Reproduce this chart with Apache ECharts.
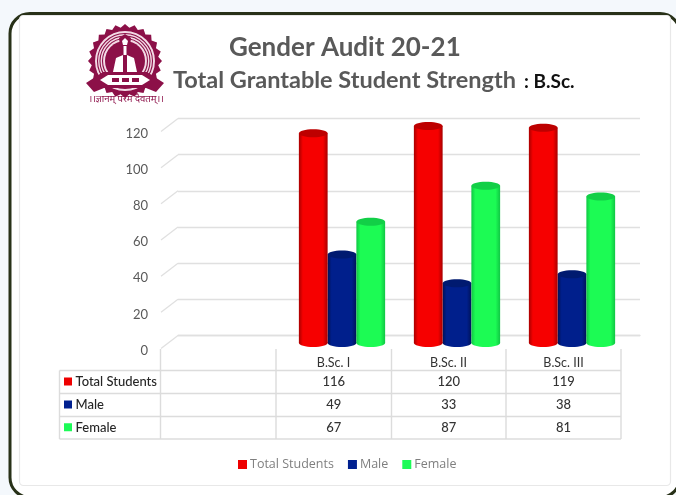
<!DOCTYPE html>
<html>
<head>
<meta charset="utf-8">
<title>Gender Audit 20-21</title>
<style>
  html, body { margin: 0; padding: 0; background: #f4f8fc; }
  #chart { width: 676px; height: 495px; }
</style>
<script src="https://cdn.jsdelivr.net/npm/echarts@6/dist/echarts.min.js"></script>
</head>
<body>
<div id="chart"></div>
<script>
// Student strength per B.Sc. year; the leading blank category is the empty first column.
const categories = ['', 'B.Sc. I', 'B.Sc. II', 'B.Sc. III'];
const totalStudents = [null, 116, 120, 119];
const male = [null, 49, 33, 38];
const female = [null, 67, 87, 81];
const yTicks = [0, 20, 40, 60, 80, 100, 120];
const rowNames = ['Total Students', 'Male', 'Female'];

const FONT = 'Lato, "Open Sans", sans-serif';
const GRID_LINE = '#e0e0e0';
const TABLE_LINE = '#dcdcdc';

// Cylinder shading, one palette per series.
const palette = {
  'Total Students': { base: '#ee0000', edge: '#a80000', mid: '#f60000', cap: '#bd0000' },
  'Male': { base: '#00208f', edge: '#001258', mid: '#001f8c', cap: '#001a70' },
  'Female': { base: '#1dfb57', edge: '#10c744', mid: '#1cfb54', cap: '#12cf47' }
};

function cylinder(name, slot) {
  const p = palette[name];
  return function (params, api) {
    const x = api.value(0);
    const v = api.value(1);
    if (v == null || isNaN(v)) return;
    const base = api.coord([x, 0]);
    const top = api.coord([x, v]);
    const w = api.size([1, 0])[0] * 0.25;
    const cx = base[0] + slot * w;
    const ry = 4;
    const fill = {
      type: 'linear', x: 0, y: 0, x2: 1, y2: 0,
      colorStops: [
        { offset: 0, color: p.edge },
        { offset: 0.14, color: p.mid },
        { offset: 0.84, color: p.mid },
        { offset: 1, color: p.edge }
      ]
    };
    return {
      type: 'group',
      children: [
        { type: 'ellipse', shape: { cx: cx, cy: base[1], rx: w / 2, ry: ry }, style: { fill: fill } },
        { type: 'rect', shape: { x: cx - w / 2, y: top[1], width: w, height: base[1] - top[1] }, style: { fill: fill } },
        { type: 'ellipse', shape: { cx: cx, cy: top[1], rx: w / 2, ry: ry }, style: { fill: p.cap } }
      ]
    };
  };
}

function barSeries(name, values, slot, z) {
  return {
    name: name,
    type: 'custom',
    xAxisIndex: 2,
    yAxisIndex: 2,
    z: z,
    itemStyle: { color: palette[name].base },
    encode: { x: 0, y: 1 },
    renderItem: cylinder(name, slot),
    data: values.map(function (v, i) { return [i, v]; })
  };
}

// Short slanted strokes running forward from the back wall's gridlines.
function slantSeries() {
  return {
    type: 'custom',
    xAxisIndex: 1,
    yAxisIndex: 1,
    silent: true,
    z: 1,
    clip: false,
    encode: { x: 0, y: 1 },
    renderItem: function (params, api) {
      const y = api.coord([0, api.value(1)])[1];
      const x = params.coordSys.x;
      return {
        type: 'line',
        shape: { x1: x, y1: y, x2: x - 17, y2: y + 13 },
        style: { stroke: GRID_LINE, lineWidth: 1.3 }
      };
    },
    data: yTicks.map(function (t) { return [0, t]; })
  };
}

// Data table under the plot, with its key swatches.
function tableGraphics() {
  const colX = [59.5, 160.5, 276, 391.5, 506, 621];
  const rowY = [370.5, 393.5, 416.5, 439];
  const rows = [totalStudents, male, female];
  const out = [];
  const line = function (x1, y1, x2, y2) {
    out.push({ type: 'line', shape: { x1: x1, y1: y1, x2: x2, y2: y2 }, style: { stroke: TABLE_LINE, lineWidth: 1.4 } });
  };
  rowY.forEach(function (y) { line(colX[0], y, colX[5], y); });
  colX.forEach(function (x, i) { line(x, i === 0 ? rowY[0] : 349, x, rowY[3]); });
  rowNames.forEach(function (name, r) {
    const cy = (rowY[r] + rowY[r + 1]) / 2;
    out.push({ type: 'rect', shape: { x: 64, y: cy - 4.5, width: 8, height: 8 }, style: { fill: palette[name].base } });
    out.push({ type: 'text', x: 75.5, y: cy, style: { text: name, font: '500 13px ' + FONT, fill: '#262626', textVerticalAlign: 'middle' } });
    for (let c = 1; c < categories.length; c++) {
      out.push({
        type: 'text', x: (colX[c + 1] + colX[c + 2]) / 2, y: cy,
        style: { text: String(rows[r][c]), font: '500 13px ' + FONT, fill: '#333333', textAlign: 'center', textVerticalAlign: 'middle' }
      });
    }
  });
  return out;
}

// College crest beside the heading.
function crest() {
  const maroon = '#8c1048';
  const cx = 125, cy = 61;
  const star = [];
  for (let i = 0; i < 48; i++) {
    const a = Math.PI * 2 * i / 48;
    const r = i % 2 ? 33.5 : 37;
    star.push([cx + r * Math.cos(a), cy + r * Math.sin(a)]);
  }
  const out = [
    { type: 'polygon', shape: { points: star }, style: { fill: maroon } },
    { type: 'circle', shape: { cx: cx, cy: cy, r: 30 }, style: { fill: '#f3dbe6' } }
  ];
  [27.5, 25, 22.5].forEach(function (r) {
    out.push({ type: 'circle', shape: { cx: cx, cy: cy, r: r }, style: { fill: 'none', stroke: maroon, lineWidth: 1.1 } });
  });
  return out.concat([
    { type: 'circle', shape: { cx: cx, cy: cy, r: 20 }, style: { fill: maroon } },
    { type: 'polygon', shape: { points: [[113, 72], [116, 58], [123, 55], [123, 72]] }, style: { fill: '#fff' } },
    { type: 'polygon', shape: { points: [[137, 72], [134, 58], [127, 55], [127, 72]] }, style: { fill: '#fff' } },
    { type: 'polygon', shape: { points: [[125, 34], [119, 38], [120, 46], [130, 46], [131, 38]] }, style: { fill: maroon } },
    { type: 'polygon', shape: { points: [[125, 38], [122, 41], [123, 45], [127, 45], [128, 41]] }, style: { fill: '#fff' } },
    { type: 'rect', shape: { x: 123.5, y: 46, width: 3, height: 9 }, style: { fill: '#fff' } },
    { type: 'polygon', shape: { points: [[86, 83], [103, 72], [147, 72], [164, 83], [156, 92], [146, 88], [104, 88], [94, 92]] }, style: { fill: maroon } },
    { type: 'polygon', shape: { points: [[100, 80], [108, 75], [142, 75], [150, 80], [142, 85], [108, 85]] }, style: { fill: '#fff' } },
    { type: 'rect', shape: { x: 112, y: 78, width: 7, height: 4 }, style: { fill: maroon } },
    { type: 'rect', shape: { x: 122, y: 78, width: 7, height: 4 }, style: { fill: maroon } },
    { type: 'rect', shape: { x: 132, y: 78, width: 7, height: 4 }, style: { fill: maroon } },
    {
      type: 'text', x: 126, y: 99,
      style: { text: '।।ज्ञानम् परमं दैवतम्।।', font: '9.5px "Noto Sans", sans-serif', fill: '#8c1048', textAlign: 'center', textVerticalAlign: 'middle' }
    }
  ]);
}

const frame = [
  { type: 'rect', shape: { x: 0, y: 0, width: 676, height: 495 }, style: { fill: '#f4f8fc' } },
  { type: 'rect', shape: { x: 10, y: 13.5, width: 670, height: 484, r: 20 }, style: { fill: '#ffffff', stroke: '#283118', lineWidth: 3 } },
  { type: 'rect', shape: { x: 19.5, y: 15.5, width: 651, height: 470, r: 4 }, style: { fill: '#ffffff', stroke: '#e8e8e8', lineWidth: 1.2 } }
];

const chart = echarts.init(document.getElementById('chart'), null, { renderer: 'canvas' });
chart.setOption({
  animation: false,
  backgroundColor: '#f4f8fc',
  title: [
    { text: 'Gender Audit 20-21', left: 224, top: 30, textStyle: { fontFamily: FONT, fontSize: 26, fontWeight: 'bold', color: '#595959' } },
    { text: 'Total Grantable Student Strength', left: 168, top: 63, textStyle: { fontFamily: FONT, fontSize: 23.5, fontWeight: 'bold', color: '#595959' } },
    { text: ': B.Sc.', left: 519, top: 67, textStyle: { fontFamily: FONT, fontSize: 19, fontWeight: 'bold', color: '#111111' } }
  ],
  legend: {
    data: rowNames,
    left: 233,
    top: 453,
    icon: 'rect',
    itemWidth: 9,
    itemHeight: 9,
    itemGap: 14,
    textStyle: { fontFamily: '"Open Sans", sans-serif', fontSize: 12.5, color: '#7f7f7f', padding: [0, 0, 0, -2] }
  },
  graphic: { elements: [
    { type: 'group', silent: true, z: -10, children: frame },
    { type: 'group', silent: true, z: 5, children: crest() },
    { type: 'group', silent: true, z: 5, children: tableGraphics() }
  ] },
  grid: [
    { left: 161, top: 133.5, width: 460, height: 217 },
    { left: 178, top: 118.5, width: 462, height: 217 },
    { left: 169.5, top: 126, width: 460, height: 217 }
  ],
  xAxis: [
    {
      gridIndex: 0, type: 'category', data: categories,
      axisLine: { show: false }, axisTick: { show: false },
      axisLabel: { margin: 6, fontFamily: FONT, fontSize: 12.5, color: '#333333' }
    },
    { gridIndex: 1, type: 'category', data: categories, axisLine: { show: true, lineStyle: { color: GRID_LINE, width: 1.3 } }, axisTick: { show: false }, axisLabel: { show: false } },
    { gridIndex: 2, type: 'category', data: categories, axisLine: { show: false }, axisTick: { show: false }, axisLabel: { show: false } }
  ],
  yAxis: [
    {
      gridIndex: 0, type: 'value', min: 0, max: 120, interval: 20,
      axisLine: { show: false }, axisTick: { show: false }, splitLine: { show: false },
      axisLabel: { margin: 13, fontFamily: FONT, fontSize: 13, color: '#595959' }
    },
    {
      gridIndex: 1, type: 'value', min: 0, max: 120, interval: 20,
      axisLine: { show: false }, axisTick: { show: false }, axisLabel: { show: false },
      splitLine: { show: true, lineStyle: { color: GRID_LINE, width: 1.3 } }
    },
    {
      gridIndex: 2, type: 'value', min: 0, max: 120, interval: 20,
      axisLine: { show: false }, axisTick: { show: false }, axisLabel: { show: false }, splitLine: { show: false }
    }
  ],
  series: [
    slantSeries(),
    barSeries('Total Students', totalStudents, -1, 4),
    barSeries('Male', male, 0, 3),
    barSeries('Female', female, 1, 4)
  ]
});
</script>
</body>
</html>
